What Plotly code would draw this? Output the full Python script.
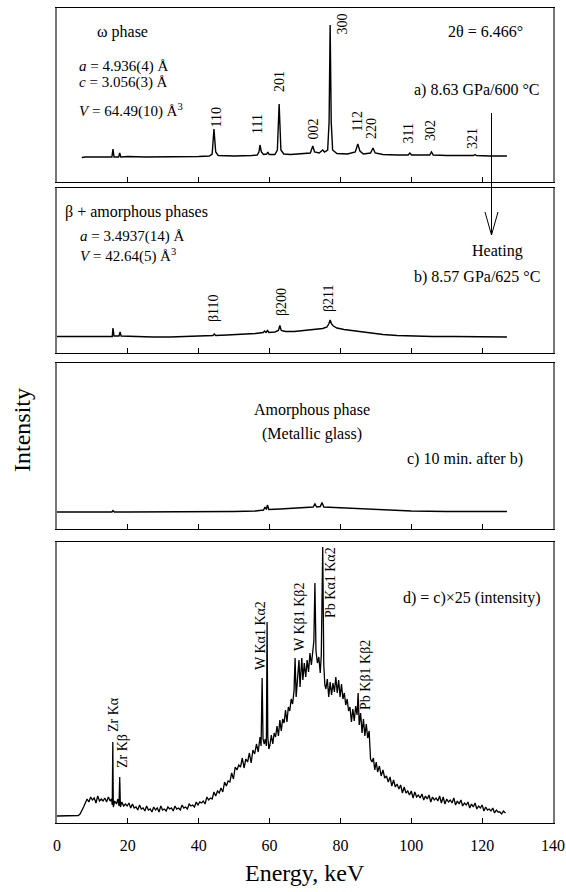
import plotly.graph_objects as go

# ---------------- data (intensity in arbitrary units, energy in keV) ----------------
energy_a = [7, 8, 10, 12, 14, 15.5, 15.8, 16.1, 17.4, 17.7,
            18.0, 20, 25, 30, 35, 40, 43, 43.8, 44.3, 44.8,
            45.5, 50, 55, 56.5, 57.0, 57.3, 57.7, 58.3, 59.2, 59.5,
            59.9, 61.5, 62.2, 62.7, 63.2, 64, 66, 68, 70, 71.5,
            72.2, 72.7, 74, 75, 75.5, 76.4, 76.8, 77.1, 77.4, 77.8,
            79, 82, 84.2, 84.9, 85.5, 86.5, 88.5, 89.2, 89.8, 92,
            96, 99.1, 99.6, 100.1, 103, 105.2, 105.7, 106.2, 110, 115,
            117.6, 118.0, 118.4, 122, 127]
intensity_a = [24.5, 25, 25, 25, 25, 25, 33, 25, 25, 29,
               25, 25.5, 25, 25, 25.5, 25.5, 26, 28, 53, 30,
               26.5, 26, 26.5, 27, 30, 37, 30, 27.5, 28, 30,
               27.5, 27.5, 32, 78, 32, 28, 27.5, 28, 28, 29,
               36, 30, 29, 32, 30, 32, 60, 157, 60, 32,
               28.5, 28, 30, 38, 31, 28, 29, 34, 29, 27.5,
               27, 27, 29, 27, 27, 27, 30, 27, 26.5, 26.5,
               26.5, 27.5, 26.5, 26, 26]

energy_b = [0, 3, 7, 10, 14, 15.6, 15.8, 16.1, 17.5, 17.8,
            18.1, 22, 27, 32, 37, 42, 44, 44.4, 44.8, 48,
            52, 56, 58.2, 58.6, 59.0, 59.4, 59.8, 61.5, 62.5, 62.9,
            63.3, 64.5, 67, 70, 73, 75, 76.2, 76.7, 77.1, 77.5,
            78, 79, 81, 84, 88, 92, 96, 100, 106, 112,
            118, 122, 127]
intensity_b = [16.5, 16.5, 16.5, 16.5, 16.5, 16.5, 25, 17, 17, 21,
               17, 16.5, 16, 16, 16.5, 17, 17.5, 19, 17.5, 18,
               18.5, 19.5, 20.5, 22, 20.5, 22.5, 20.5, 21, 22.5, 27.5,
               22.5, 21.5, 21.5, 22.5, 23.5, 24.5, 26, 29, 33, 29,
               27, 25, 23.5, 22, 20, 18.5, 17.5, 17, 16.5, 16.5,
               16.5, 16.5, 16]

energy_c = [0, 5, 10, 15.5, 15.8, 16.2, 20, 30, 40, 50,
            56, 58.3, 58.7, 59.1, 59.4, 59.8, 63, 66, 70, 72.3,
            72.8, 73.3, 74.3, 74.8, 75.3, 78, 82, 86, 90, 95,
            100, 110, 120, 127]
intensity_c = [17, 17, 17, 17, 18.5, 17, 17, 17, 17, 17.5,
               18, 19, 22, 19.5, 24, 19.5, 20, 20.5, 21, 22,
               25, 22, 22.5, 26.5, 22, 21.5, 21, 20.5, 19.5, 18.5,
               18, 17.5, 17.5, 17.5]

energy_d = [0, 1, 2, 3, 4, 5, 6, 6.5, 7, 7.5,
            8, 8.5, 9, 9.5, 10, 10.5, 11, 11.5, 12, 12.5,
            13, 13.5, 14, 14.5, 15, 15.4, 15.6, 15.75, 15.9, 16.3,
            16.8, 17.2, 17.5, 17.7, 17.9, 18.3, 18.8, 19.3, 19.8, 20.3,
            20.8, 21.3, 21.8, 22.3, 22.8, 23.3, 23.8, 24.3, 24.8, 25.3,
            25.8, 26.3, 26.8, 27.3, 27.8, 28.3, 28.8, 29.3, 29.8, 30.3,
            30.8, 31.3, 31.8, 32.3, 32.8, 33.3, 33.8, 34.3, 34.8, 35.3,
            35.8, 36.3, 36.8, 37.3, 37.8, 38.3, 38.8, 39.3, 39.8, 40.3,
            40.8, 41.3, 41.8, 42.3, 42.8, 43.3, 43.8, 44.3, 44.8, 45.3,
            45.8, 46.3, 46.8, 47.3, 47.8, 48.3, 48.8, 49.3, 49.8, 50.3,
            50.8, 51.3, 51.8, 52.3, 52.8, 53.3, 53.8, 54.3, 54.8, 55.3,
            55.8, 56.3, 56.8, 57.3, 57.6, 57.9, 58.15, 58.5, 58.8, 59.1,
            59.3, 59.5, 59.8, 60.1, 60.5, 60.9, 61.3, 61.7, 62.1, 62.5,
            62.9, 63.3, 63.7, 64.1, 64.5, 64.9, 65.3, 65.7, 66.1, 66.5,
            66.9, 67.2, 67.5, 67.9, 68.3, 68.6, 68.9, 69.1, 69.4, 69.8,
            70.2, 70.6, 71.0, 71.4, 71.8, 72.2, 72.5, 72.8, 73.1, 73.5,
            73.9, 74.3, 74.6, 75.0, 75.3, 75.6, 75.9, 76.3, 76.7, 77.1,
            77.5, 77.9, 78.3, 78.7, 79.1, 79.5, 79.9, 80.3, 80.7, 81.1,
            81.5, 81.9, 82.3, 82.7, 83.1, 83.5, 83.9, 84.3, 84.7, 85.0,
            85.3, 85.7, 86.1, 86.5, 86.9, 87.3, 87.7, 88.1, 88.5, 88.9,
            89.3, 89.7, 90.1, 90.5, 91.0, 91.5, 92.0, 92.5, 93.0, 93.5,
            94.0, 94.5, 95.0, 95.5, 96.0, 96.5, 97.0, 97.5, 98.0, 98.5,
            99.0, 99.5, 100.0, 100.5, 101, 101.5, 102, 102.5, 103, 103.5,
            104, 104.5, 105, 105.5, 106, 106.5, 107, 107.5, 108, 108.5,
            109, 109.5, 110, 110.5, 111, 111.5, 112, 112.5, 113, 113.5,
            114, 114.5, 115, 115.5, 116, 116.5, 117, 117.5, 118, 118.5,
            119, 119.5, 120, 120.5, 121, 121.5, 122, 122.5, 123, 123.5,
            124, 124.5, 125, 125.5, 126, 126.6]
intensity_d = [7, 7, 7.5, 7, 7, 7.5, 7.5, 9, 12, 16,
               20, 24, 21, 26, 23, 25, 20, 27, 22, 24,
               22, 25, 21, 26, 22, 24, 18, 81, 16, 22,
               19, 24, 17, 46, 16, 21, 17, 19, 17, 20,
               15, 19, 15, 16, 13, 18, 14, 15, 12, 17,
               13, 14, 11, 16, 13, 15, 11, 17, 13, 14,
               12, 16, 14, 15, 12, 17, 14, 15, 13, 18,
               15, 16, 14, 19, 17, 18, 16, 21, 18, 21,
               20, 22, 19, 26, 23, 25, 24, 31, 27, 32,
               30, 35, 31, 41, 37, 42, 41, 50, 44, 56,
               53, 58, 56, 65, 55, 64, 61, 70, 60, 73,
               69, 79, 71, 86, 77, 145, 84, 79, 84, 77,
               201, 86, 74, 78, 88, 79, 90, 86, 97, 87,
               103, 92, 104, 100, 113, 101, 116, 112, 124, 119,
               132, 165, 126, 144, 163, 136, 151, 165, 143, 160,
               146, 163, 151, 170, 158, 174, 182, 240, 172, 160,
               166, 150, 168, 276, 158, 138, 134, 144, 126, 141,
               128, 140, 131, 146, 130, 143, 126, 139, 124, 130,
               118, 124, 112, 116, 101, 114, 102, 117, 108, 130,
               98, 110, 90, 104, 87, 99, 85, 92, 64, 61,
               65, 53, 61, 51, 57, 47, 53, 45, 47, 41,
               46, 37, 43, 36, 39, 34, 38, 30, 36, 30,
               32, 28, 32, 25, 31, 26, 28, 25, 29, 23,
               27, 24, 28, 21, 26, 23, 25, 22, 27, 20,
               26, 19, 24, 21, 23, 20, 25, 18, 22, 19,
               23, 17, 20, 18, 21, 15, 19, 16, 20, 14,
               17, 15, 18, 12, 16, 13, 14, 12, 15, 10,
               13, 11, 11, 9, 12, 10]

x_ticks = [0, 20, 40, 60, 80, 100, 120, 140]
peak_labels_a = ["110", "111", "201", "002", "300", "112", "220", "311", "302", "321"]
peak_labels_b = ["β110", "β200", "β211"]
peak_labels_d = ["Zr Kα", "Zr Kβ", "W Kα1 Kα2", "W Kβ1 Kβ2", "Pb Kα1 Kα2", "Pb Kβ1 Kβ2"]

# ---------------- layout geometry (pixels) ----------------
W, H = 566, 892
L, R = 57, 553
panel_px = [(8, 182), (188, 353), (363, 529), (542, 823)]
FONT = "Liberation Serif"


def P(px, py):
    return (px - L) / (R - L), 1 - py / H


fig = go.Figure()
series = [(energy_a, intensity_a, 1.4), (energy_b, intensity_b, 1.4),
          (energy_c, intensity_c, 1.4), (energy_d, intensity_d, 1.3)]
for k, (ex, iy, lw) in enumerate(series):
    suf = "" if k == 0 else str(k + 1)
    fig.add_trace(go.Scatter(x=ex, y=iy, mode="lines", line=dict(color="black", width=lw),
                             xaxis="x" + suf, yaxis="y" + suf, showlegend=False, hoverinfo="skip"))

layout = dict(width=W, height=H, margin=dict(l=L, r=W - R, t=0, b=0),
              paper_bgcolor="white", plot_bgcolor="white", showlegend=False,
              font=dict(family=FONT, color="black"))
for k, (top, bot) in enumerate(panel_px):
    suf = "" if k == 0 else str(k + 1)
    layout["xaxis" + suf] = dict(domain=[0, 1], range=[0, 140], anchor="y" + suf,
                                 showline=True, linecolor="black", linewidth=1, mirror=True,
                                 ticks="inside", ticklen=5, tickwidth=1, tickcolor="black",
                                 tickvals=x_ticks, ticktext=[str(v) for v in x_ticks],
                                 showticklabels=(k == 3), ticklabelstandoff=8,
                                 tickfont=dict(family=FONT, size=16, color="black"),
                                 showgrid=False, zeroline=False)
    layout["yaxis" + suf] = dict(domain=[1 - bot / H, 1 - top / H], range=[0, bot - top],
                                 anchor="x" + suf, showline=True, linecolor="#777",
                                 linewidth=1.5, mirror=True, ticks="", showticklabels=False,
                                 showgrid=False, zeroline=False)
fig.update_layout(**layout)

ann = []


def text(t, px, py, size=16, xanchor="left", angle=0):
    x, y = P(px, py)
    ann.append(dict(text=t, x=x, y=y, xref="paper", yref="paper", showarrow=False,
                    xanchor=xanchor, yanchor="middle", textangle=angle,
                    font=dict(family=FONT, size=size, color="black")))


# panel a
text("ω phase", 95, 32)
text("<i>a</i> = 4.936(4) Å", 77, 67, 15)
text("<i>c</i> = 3.056(3) Å", 77, 83, 15)
text("<i>V</i> = 64.49(10) Å<sup>3</sup>", 77, 110, 15)
text("2θ = 6.466°", 525, 32, 16, "right")
text("a) 8.63 GPa/600 °C", 542, 90, 16, "right")
pos_a = [(215.5, 118), (258, 124), (279, 82), (312.5, 129), (342.5, 24),
         (356.5, 122), (371, 129), (407.5, 134), (430, 131), (473, 139)]
for lab, (px, py) in zip(peak_labels_a, pos_a):
    text(lab, px, py, 14, "center", -90)

# panel b
text("β + amorphous phases", 63, 212)
text("<i>a</i> = 3.4937(14) Å", 78, 237, 15)
text("<i>V</i> = 42.64(5) Å<sup>3</sup>", 78, 256, 15)
text("Heating", 497, 251, 16, "center")
text("b) 8.57 GPa/625 °C", 542, 277, 16, "right")
pos_b = [(213, 308), (281, 302), (329, 298)]
for lab, (px, py) in zip(peak_labels_b, pos_b):
    text(lab, px, py, 14, "center", -90)

# panel c
text("Amorphous phase", 312, 410, 16, "center")
text("(Metallic glass)", 312, 434, 16, "center")
text("c) 10 min. after b)", 525, 459, 16, "right")

# panel d
text("d) = c)×25 (intensity)", 543, 598, 16, "right")
pos_d = [(113, 715), (122, 751), (260, 636), (299, 617), (330, 583), (365, 675)]
for lab, (px, py) in zip(peak_labels_d, pos_d):
    text(lab, px, py, 14, "center", -90)

# axis titles
text("Intensity", 22, 430, 24, "center", -90)
text("Energy, keV", 305, 873, 24, "center")

fig.update_layout(annotations=ann)

# heating arrow
shapes = []
for (x0, y0, x1, y1) in [(491.5, 113, 491.5, 235), (485, 212, 491.5, 235), (498, 212, 491.5, 235)]:
    a0, b0 = P(x0, y0)
    a1, b1 = P(x1, y1)
    shapes.append(dict(type="line", xref="paper", yref="paper", x0=a0, y0=b0, x1=a1, y1=b1,
                       line=dict(color="black", width=1)))
fig.update_layout(shapes=shapes)

fig.write_html("out.html")
